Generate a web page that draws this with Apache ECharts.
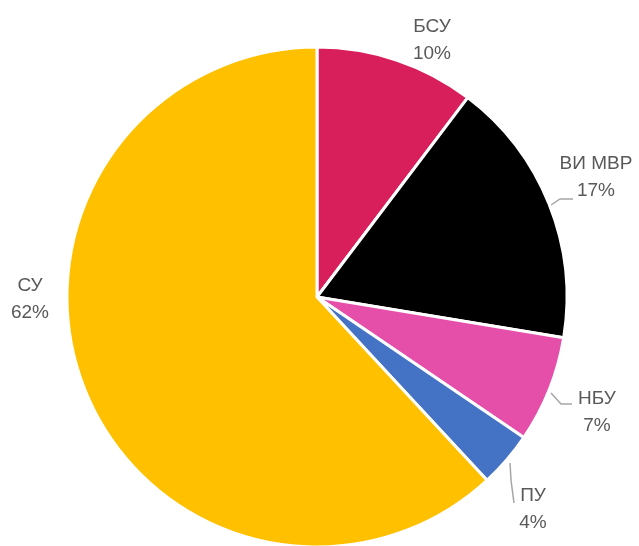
<!DOCTYPE html>
<html>
<head>
<meta charset="utf-8">
<script src="https://cdn.jsdelivr.net/npm/echarts@6/dist/echarts.min.js"></script>
<style>
html, body { margin: 0; padding: 0; background: #fff; }
#chart { width: 639px; height: 546px; }
</style>
</head>
<body>
<div id="chart"></div>
<script>
var categories = ["БСУ", "ВИ МВР", "НБУ", "ПУ", "СУ"];
var values = [10.3, 17.3, 6.9, 3.6, 61.9];
var colors = ["#D81F5C", "#000000", "#E54FAA", "#4472C4", "#FFC000"];

// where the labels sit, and the leader lines (null = no line)
var labelPos = [
    { x: 432, y: 40 },
    { x: 596, y: 177 },
    { x: 597, y: 412 },
    { x: 533, y: 509 },
    { x: 30, y: 299 }
];
var leaderLines = [
    null,
    [[551, 205], [560, 199], [573, 199]],
    [[551, 393], [561, 404], [572, 404]],
    [[510, 463], [511, 480], [514, 503]],
    null
];

var myChart = echarts.init(document.getElementById('chart'));
var seriesData = [];
for (var i = 0; i < categories.length; i++) {
    seriesData.push({
        name: categories[i],
        value: values[i],
        itemStyle: { color: colors[i] },
        labelLine: { show: leaderLines[i] !== null }
    });
}

myChart.setOption({
    animation: false,
    series: [{
        type: 'pie',
        center: [317, 297],
        radius: 250,
        startAngle: 90,
        clockwise: true,
        itemStyle: {
            borderColor: '#ffffff',
            borderWidth: 3
        },
        label: {
            show: true,
            position: 'outside',
            color: '#595959',
            fontSize: 19,
            fontFamily: 'Liberation Sans',
            lineHeight: 27,
            align: 'center',
            overflow: 'none',
            edgeDistance: 0,
            bleedMargin: 0,
            formatter: function(p) {
                return p.name + '\n' + Math.round(p.percent) + '%';
            }
        },
        labelLine: {
            lineStyle: { color: '#A6A6A6', width: 1.5 }
        },
        labelLayout: function(params) {
            var pos = labelPos[params.dataIndex];
            var out = {
                x: pos.x,
                y: pos.y,
                align: 'center',
                verticalAlign: 'middle',
                fontSize: 19
            };
            if (leaderLines[params.dataIndex]) {
                out.labelLinePoints = leaderLines[params.dataIndex];
            }
            return out;
        },
        data: seriesData
    }]
});
</script>
</body>
</html>
